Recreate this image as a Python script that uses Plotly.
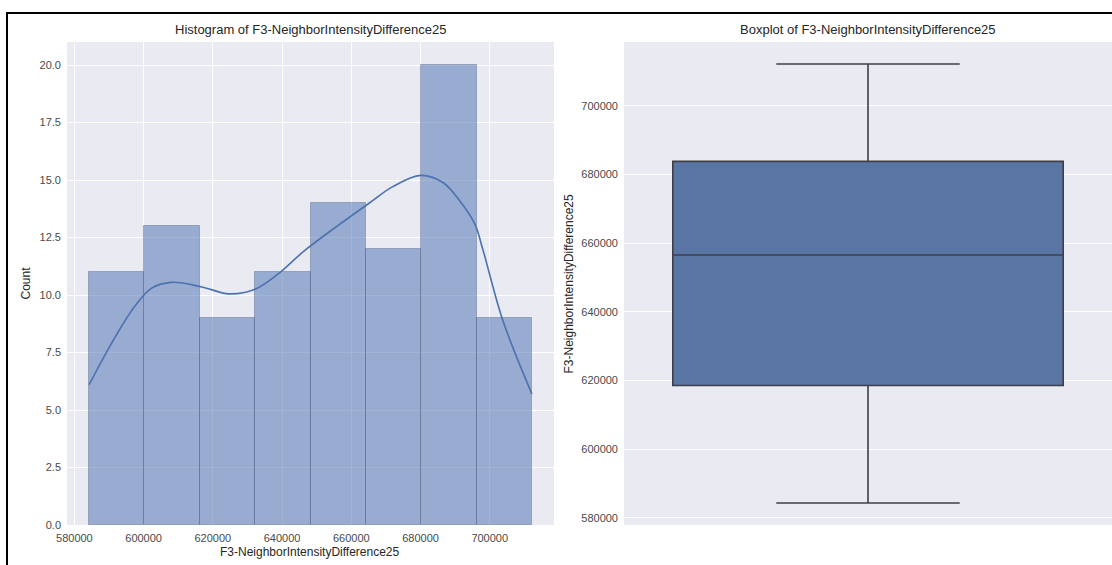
import plotly.graph_objects as go
from plotly.subplots import make_subplots

FEATURE = "F3-NeighborIntensityDifference25"

# Histogram bins (edges) and counts per bin
bin_edges = [584260, 600250, 616240, 632230, 648220, 664210, 680200, 696190, 712170]
counts = [11, 13, 9, 11, 14, 12, 20, 9]

# Kernel density estimate (scaled to counts), sampled along the x axis
kde_x = [584260, 590725, 597390, 602320, 608115, 616810, 624640, 632170, 639130,
         646670, 665220, 671885, 680000, 686380, 691300, 695650, 697970, 703770, 712170]
kde_y = [6.1, 7.9, 9.5, 10.3, 10.55, 10.35, 10.05, 10.25, 10.95,
         11.95, 14.0, 14.7, 15.2, 14.9, 14.1, 13.1, 12.0, 8.9, 5.7]

# Box plot summary statistics
box_min = 584260
box_q1 = 618500
box_median = 656500
box_q3 = 683800
box_max = 712170

hist_xticks = [580000, 600000, 620000, 640000, 660000, 680000, 700000]
hist_yticks = [0, 2.5, 5, 7.5, 10, 12.5, 15, 17.5, 20]
box_yticks = [580000, 600000, 620000, 640000, 660000, 680000, 700000]

W, H = 1112, 565
ML, MR, MT, MB = 67, 0, 42, 40
PW = W - ML - MR
PH = H - MT - MB


def px_x(px):
    return (px - ML) / PW


def px_y(py):
    return (H - MB - py) / PH


FONT = "Liberation Sans, Arial, sans-serif"
BG = "#EAEAF2"
TXT = "#262626"

fig = make_subplots(rows=1, cols=2)

centers = [(a + b) / 2 for a, b in zip(bin_edges[:-1], bin_edges[1:])]
widths = [b - a for a, b in zip(bin_edges[:-1], bin_edges[1:])]

fig.add_trace(go.Bar(
    x=centers, y=counts, width=widths,
    marker=dict(color="rgba(76,114,176,0.52)",
                line=dict(color="rgba(55,70,105,0.32)", width=1)),
    showlegend=False, hoverinfo="skip"), row=1, col=1)

fig.add_trace(go.Scatter(
    x=kde_x, y=kde_y, mode="lines", line=dict(color="#4C72B0", width=1.6, shape="spline"),
    showlegend=False, hoverinfo="skip"), row=1, col=1)

fig.add_trace(go.Box(
    x=[0], q1=[box_q1], median=[box_median], q3=[box_q3],
    lowerfence=[box_min], upperfence=[box_max],
    width=0.8, whiskerwidth=0.47,
    fillcolor="#5975A4", line=dict(color="#3F3F46", width=1.6),
    showlegend=False, hoverinfo="skip"), row=1, col=2)

hist_x_range = [577865, 718565]
axis_common = dict(showline=False, zeroline=False, gridcolor="white", gridwidth=1,
                   tickfont=dict(family=FONT, size=11, color="#4a4a4a"),
                   ticks="", ticklabelstandoff=5)

fig.update_xaxes(domain=[0, px_x(554)], range=hist_x_range, tickvals=hist_xticks,
                 tickformat="d", showgrid=True, **axis_common, row=1, col=1)
fig.update_yaxes(domain=[0, 1], range=[0, 21], tickvals=hist_yticks,
                 ticktext=[f"{v:.1f}" for v in hist_yticks], showgrid=True,
                 **axis_common, row=1, col=1)
fig.update_xaxes(domain=[px_x(624), 1], range=[-0.5, 0.5], showticklabels=False,
                 showgrid=False, **axis_common, row=1, col=2)
fig.update_yaxes(domain=[0, 1], range=[577865, 718565], tickvals=box_yticks,
                 tickformat="d", showgrid=True, **axis_common, row=1, col=2)

ann = []
ann.append(dict(text=f"Histogram of {FEATURE}", x=px_x((67 + 554) / 2), y=1,
                xref="paper", yref="paper", xanchor="center", yanchor="bottom",
                yshift=3, showarrow=False, font=dict(family=FONT, size=13, color=TXT)))
ann.append(dict(text=f"Boxplot of {FEATURE}", x=px_x((624 + 1112) / 2), y=1,
                xref="paper", yref="paper", xanchor="center", yanchor="bottom",
                yshift=3, showarrow=False, font=dict(family=FONT, size=13, color=TXT)))
ann.append(dict(text="Count", x=px_x(25), y=0.5, xref="paper", yref="paper",
                textangle=-90, xanchor="center", yanchor="middle", showarrow=False,
                font=dict(family=FONT, size=12, color=TXT)))
ann.append(dict(text=FEATURE, x=px_x(568), y=0.5, xref="paper", yref="paper",
                textangle=-90, xanchor="center", yanchor="middle", showarrow=False,
                font=dict(family=FONT, size=12, color=TXT)))
ann.append(dict(text=FEATURE, x=px_x(310), y=px_y(552), xref="paper", yref="paper",
                xanchor="center", yanchor="middle", showarrow=False,
                font=dict(family=FONT, size=12, color=TXT)))

# Frame lines along the left and top of the figure
shapes = [
    dict(type="line", xref="paper", yref="paper", x0=px_x(7), x1=px_x(7),
         y0=px_y(H + 2), y1=px_y(12.5), line=dict(color="black", width=2)),
    dict(type="line", xref="paper", yref="paper", x0=px_x(6), x1=px_x(W + 2),
         y0=px_y(13), y1=px_y(13), line=dict(color="black", width=2)),
]

fig.update_layout(
    width=W, height=H,
    margin=dict(l=ML, r=MR, t=MT, b=MB),
    paper_bgcolor="white", plot_bgcolor=BG,
    bargap=0, annotations=ann, shapes=shapes,
    font=dict(family=FONT, color=TXT),
)

fig.write_html("out.html")
